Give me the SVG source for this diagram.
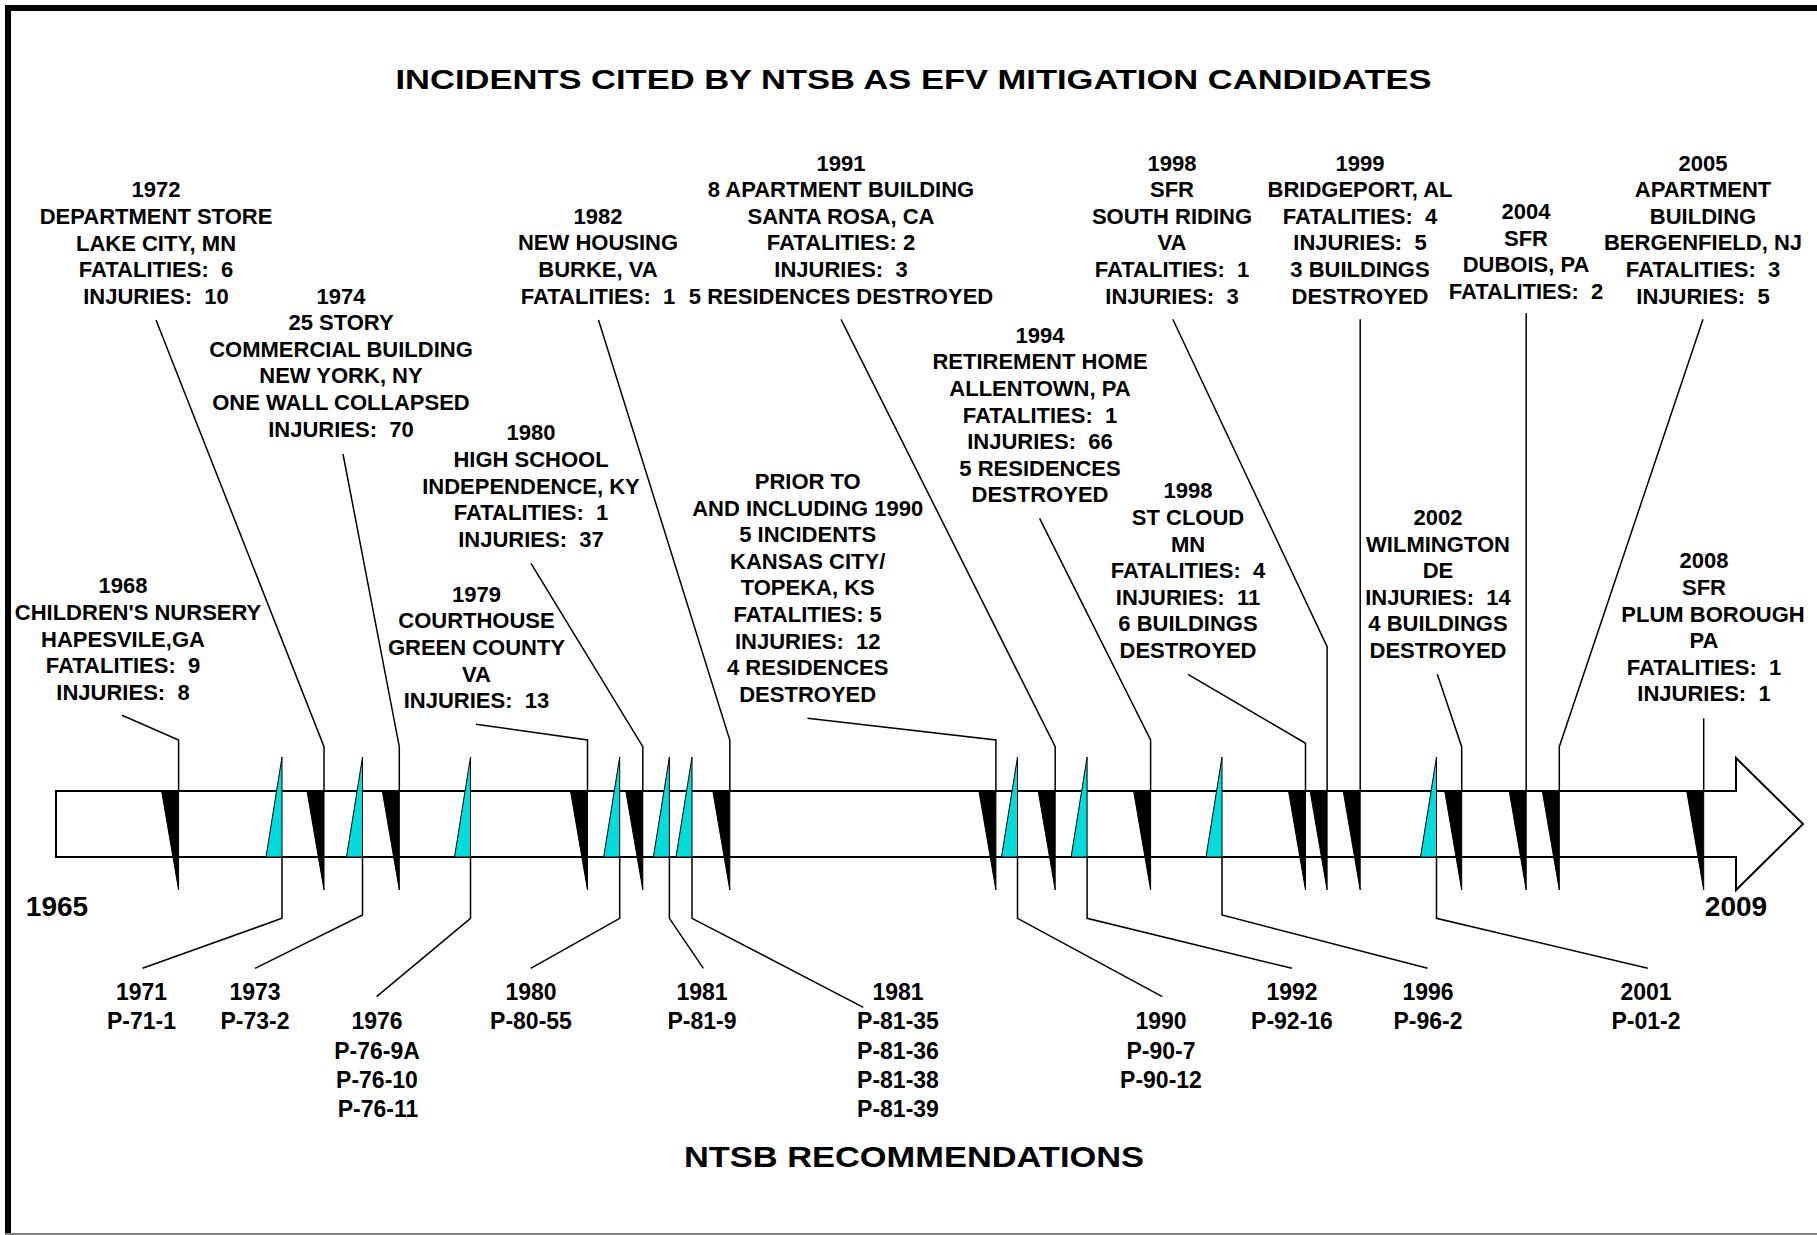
<svg xmlns="http://www.w3.org/2000/svg" width="1817" height="1235" viewBox="0 0 1817 1235">
<style>
text{font-family:"Liberation Sans",Arial,sans-serif;font-weight:bold;fill:#000;text-anchor:middle}
.lbl{font-size:22px}
.rec{font-size:23px}
.big{font-size:28px}
.ldr{stroke:#000;stroke-width:1.5;fill:none}
.blk{fill:#000;stroke:#000;stroke-width:1}
.cyn{fill:#00DCDC;stroke:#000;stroke-width:1}
</style>
<rect x="0" y="0" width="1817" height="1235" fill="#fff"/>
<path d="M8,1235 V8 H1817" fill="none" stroke="#000" stroke-width="6"/>
<line x1="5" y1="1234" x2="1817" y2="1234" stroke="#808080" stroke-width="2"/>

<g id="title"><text x="913.5" y="88.5" font-size="28.5" textLength="1036" lengthAdjust="spacingAndGlyphs">INCIDENTS CITED BY NTSB AS EFV MITIGATION CANDIDATES</text></g>

<g id="timeline">
<polygon points="56,791 1736,791 1736,758 1803,824 1736,890 1736,857 56,857" fill="#fff" stroke="#000" stroke-width="2"/>
<text class="big" x="57" y="916">1965</text>
<text class="big" x="1736" y="916">2009</text>
</g>

<g id="connectors">
<polyline class="ldr" points="178.6,791 178.6,740 122,715.3"/>
<polyline class="ldr" points="324,791 324,746.7 156,320"/>
<polyline class="ldr" points="399.3,791 399.3,746.7 343,454"/>
<polyline class="ldr" points="587.5,791 587.5,740 476,724.3"/>
<polyline class="ldr" points="642.8,791 642.8,746.7 531,563.3"/>
<polyline class="ldr" points="729.8,791 729.8,740 598.5,320"/>
<polyline class="ldr" points="995.9,791 995.9,740 807.5,718.3"/>
<polyline class="ldr" points="1055.2,791 1055.2,746.7 841,319.3"/>
<polyline class="ldr" points="1150.6,791 1150.6,740 1039.6,518.3"/>
<polyline class="ldr" points="1305.5,791 1305.5,743.3 1188,674.3"/>
<polyline class="ldr" points="1327.1,791 1327.1,646.7 1172.8,319.3"/>
<polyline class="ldr" points="1360.2,791 1360.2,319.3"/>
<polyline class="ldr" points="1461.7,791 1461.7,746.7 1437.3,674.3"/>
<polyline class="ldr" points="1526.2,791 1526.2,313.3"/>
<polyline class="ldr" points="1559.3,791 1559.3,746.7 1703,319.3"/>
<polyline class="ldr" points="1703.7,791 1703.7,718.3"/>
<polyline class="ldr" points="282,857 282,918.3 142.5,968.3"/>
<polyline class="ldr" points="362.5,857 362.5,915 255,968.3"/>
<polyline class="ldr" points="470.5,857 470.5,918.3 376.6,996.7"/>
<polyline class="ldr" points="619.7,857 619.7,918.3 530.7,968.3"/>
<polyline class="ldr" points="669.4,857 669.4,918.3 703.4,968.3"/>
<polyline class="ldr" points="692,857 692,918.3 863.3,1007.3"/>
<polyline class="ldr" points="1017.5,857 1017.5,918.3 1162.3,996.7"/>
<polyline class="ldr" points="1087.1,857 1087.1,918.3 1292,968.3"/>
<polyline class="ldr" points="1222,857 1222,915 1427.6,968.3"/>
<polyline class="ldr" points="1436.5,857 1436.5,918.3 1647.8,968.3"/>
</g>

<g id="markers">
<polygon class="blk" points="161.6,791 178.6,791 178.6,890"/>
<polygon class="blk" points="307,791 324,791 324,890"/>
<polygon class="blk" points="382.3,791 399.3,791 399.3,890"/>
<polygon class="blk" points="570.5,791 587.5,791 587.5,890"/>
<polygon class="blk" points="625.8,791 642.8,791 642.8,890"/>
<polygon class="blk" points="712.8,791 729.8,791 729.8,890"/>
<polygon class="blk" points="978.9,791 995.9,791 995.9,890"/>
<polygon class="blk" points="1038.2,791 1055.2,791 1055.2,890"/>
<polygon class="blk" points="1133.6,791 1150.6,791 1150.6,890"/>
<polygon class="blk" points="1288.5,791 1305.5,791 1305.5,890"/>
<polygon class="blk" points="1310.1,791 1327.1,791 1327.1,890"/>
<polygon class="blk" points="1343.2,791 1360.2,791 1360.2,890"/>
<polygon class="blk" points="1444.7,791 1461.7,791 1461.7,890"/>
<polygon class="blk" points="1509.2,791 1526.2,791 1526.2,890"/>
<polygon class="blk" points="1542.3,791 1559.3,791 1559.3,890"/>
<polygon class="blk" points="1686.7,791 1703.7,791 1703.7,890"/>
<polygon class="cyn" points="282,757 282,857 266,857"/>
<polygon class="cyn" points="362.5,757 362.5,857 346.5,857"/>
<polygon class="cyn" points="470.5,757 470.5,857 454.5,857"/>
<polygon class="cyn" points="619.7,757 619.7,857 603.7,857"/>
<polygon class="cyn" points="669.4,757 669.4,857 653.4,857"/>
<polygon class="cyn" points="692,757 692,857 676,857"/>
<polygon class="cyn" points="1017.5,757 1017.5,857 1001.5,857"/>
<polygon class="cyn" points="1087.1,757 1087.1,857 1071.1,857"/>
<polygon class="cyn" points="1222,757 1222,857 1206,857"/>
<polygon class="cyn" points="1436.5,757 1436.5,857 1420.5,857"/>
</g>

<g id="inc-1968"><text class="lbl"><tspan x="123" y="593.3">1968</tspan><tspan x="138" y="619.9">CHILDREN'S NURSERY</tspan><tspan x="123" y="646.5">HAPESVILE,GA</tspan><tspan x="123" y="673.1">FATALITIES:&#160; 9</tspan><tspan x="123" y="699.7">INJURIES:&#160; 8</tspan></text></g>
<g id="inc-1972"><text class="lbl"><tspan x="156" y="197.3">1972</tspan><tspan x="156" y="223.9">DEPARTMENT STORE</tspan><tspan x="156" y="250.5">LAKE CITY, MN</tspan><tspan x="156" y="277.1">FATALITIES:&#160; 6</tspan><tspan x="156" y="303.7">INJURIES:&#160; 10</tspan></text></g>
<g id="inc-1974"><text class="lbl"><tspan x="341" y="303.5">1974</tspan><tspan x="341" y="330.1">25 STORY</tspan><tspan x="341" y="356.7">COMMERCIAL BUILDING</tspan><tspan x="341" y="383.3">NEW YORK, NY</tspan><tspan x="341" y="409.9">ONE WALL COLLAPSED</tspan><tspan x="341" y="436.5">INJURIES:&#160; 70</tspan></text></g>
<g id="inc-1979"><text class="lbl"><tspan x="476.5" y="601.7">1979</tspan><tspan x="476.5" y="628.3">COURTHOUSE</tspan><tspan x="476.5" y="654.9">GREEN COUNTY</tspan><tspan x="476.5" y="681.5">VA</tspan><tspan x="476.5" y="708.1">INJURIES:&#160; 13</tspan></text></g>
<g id="inc-1980"><text class="lbl"><tspan x="531" y="440.3">1980</tspan><tspan x="531" y="466.9">HIGH SCHOOL</tspan><tspan x="531" y="493.5">INDEPENDENCE, KY</tspan><tspan x="531" y="520.1">FATALITIES:&#160; 1</tspan><tspan x="531" y="546.7">INJURIES:&#160; 37</tspan></text></g>
<g id="inc-1982"><text class="lbl"><tspan x="598" y="223.7">1982</tspan><tspan x="598" y="250.3">NEW HOUSING</tspan><tspan x="598" y="276.9">BURKE, VA</tspan><tspan x="598" y="303.5">FATALITIES:&#160; 1</tspan></text></g>
<g id="inc-1990"><text class="lbl"><tspan x="807.7" y="488.9">PRIOR TO</tspan><tspan x="807.7" y="515.5">AND INCLUDING 1990</tspan><tspan x="807.7" y="542.1">5 INCIDENTS</tspan><tspan x="807.7" y="568.7">KANSAS CITY/</tspan><tspan x="807.7" y="595.3">TOPEKA, KS</tspan><tspan x="807.7" y="621.9">FATALITIES: 5</tspan><tspan x="807.7" y="648.5">INJURIES:&#160; 12</tspan><tspan x="807.7" y="675.1">4 RESIDENCES</tspan><tspan x="807.7" y="701.7">DESTROYED</tspan></text></g>
<g id="inc-1991"><text class="lbl"><tspan x="841" y="170.5">1991</tspan><tspan x="841" y="197.1">8 APARTMENT BUILDING</tspan><tspan x="841" y="223.7">SANTA ROSA, CA</tspan><tspan x="841" y="250.3">FATALITIES: 2</tspan><tspan x="841" y="276.9">INJURIES:&#160; 3</tspan><tspan x="841" y="303.5">5 RESIDENCES DESTROYED</tspan></text></g>
<g id="inc-1994"><text class="lbl"><tspan x="1040" y="342.7">1994</tspan><tspan x="1040" y="369.3">RETIREMENT HOME</tspan><tspan x="1040" y="395.9">ALLENTOWN, PA</tspan><tspan x="1040" y="422.5">FATALITIES:&#160; 1</tspan><tspan x="1040" y="449.1">INJURIES:&#160; 66</tspan><tspan x="1040" y="475.7">5 RESIDENCES</tspan><tspan x="1040" y="502.3">DESTROYED</tspan></text></g>
<g id="inc-1998-stcloud"><text class="lbl"><tspan x="1188" y="498.3">1998</tspan><tspan x="1188" y="524.9">ST CLOUD</tspan><tspan x="1188" y="551.5">MN</tspan><tspan x="1188" y="578.1">FATALITIES:&#160; 4</tspan><tspan x="1188" y="604.7">INJURIES:&#160; 11</tspan><tspan x="1188" y="631.3">6 BUILDINGS</tspan><tspan x="1188" y="657.9">DESTROYED</tspan></text></g>
<g id="inc-1998-southriding"><text class="lbl"><tspan x="1172" y="170.5">1998</tspan><tspan x="1172" y="197.1">SFR</tspan><tspan x="1172" y="223.7">SOUTH RIDING</tspan><tspan x="1172" y="250.3">VA</tspan><tspan x="1172" y="276.9">FATALITIES:&#160; 1</tspan><tspan x="1172" y="303.5">INJURIES:&#160; 3</tspan></text></g>
<g id="inc-1999"><text class="lbl"><tspan x="1360" y="170.5">1999</tspan><tspan x="1360" y="197.1">BRIDGEPORT, AL</tspan><tspan x="1360" y="223.7">FATALITIES:&#160; 4</tspan><tspan x="1360" y="250.3">INJURIES:&#160; 5</tspan><tspan x="1360" y="276.9">3 BUILDINGS</tspan><tspan x="1360" y="303.5">DESTROYED</tspan></text></g>
<g id="inc-2002"><text class="lbl"><tspan x="1438" y="525">2002</tspan><tspan x="1438" y="551.6">WILMINGTON</tspan><tspan x="1438" y="578.2">DE</tspan><tspan x="1438" y="604.8">INJURIES:&#160; 14</tspan><tspan x="1438" y="631.4">4 BUILDINGS</tspan><tspan x="1438" y="658">DESTROYED</tspan></text></g>
<g id="inc-2004"><text class="lbl"><tspan x="1526" y="219">2004</tspan><tspan x="1526" y="245.6">SFR</tspan><tspan x="1526" y="272.2">DUBOIS, PA</tspan><tspan x="1526" y="298.8">FATALITIES:&#160; 2</tspan></text></g>
<g id="inc-2005"><text class="lbl"><tspan x="1703" y="170.5">2005</tspan><tspan x="1703" y="197.1">APARTMENT</tspan><tspan x="1703" y="223.7">BUILDING</tspan><tspan x="1703" y="250.3">BERGENFIELD, NJ</tspan><tspan x="1703" y="276.9">FATALITIES:&#160; 3</tspan><tspan x="1703" y="303.5">INJURIES:&#160; 5</tspan></text></g>
<g id="inc-2008"><text class="lbl"><tspan x="1704" y="568.3">2008</tspan><tspan x="1704" y="594.9">SFR</tspan><tspan x="1713" y="621.5">PLUM BOROUGH</tspan><tspan x="1704" y="648.1">PA</tspan><tspan x="1704" y="674.7">FATALITIES:&#160; 1</tspan><tspan x="1704" y="701.3">INJURIES:&#160; 1</tspan></text></g>

<g id="rec-1971"><text class="rec"><tspan x="141.5" y="1000">1971</tspan><tspan x="141.5" y="1029.3">P-71-1</tspan></text></g>
<g id="rec-1973"><text class="rec"><tspan x="255" y="1000">1973</tspan><tspan x="255" y="1029.3">P-73-2</tspan></text></g>
<g id="rec-1976"><text class="rec"><tspan x="377" y="1029.3">1976</tspan><tspan x="377" y="1058.6">P-76-9A</tspan><tspan x="377" y="1087.9">P-76-10</tspan><tspan x="378" y="1117.2">P-76-11</tspan></text></g>
<g id="rec-1980"><text class="rec"><tspan x="531" y="1000">1980</tspan><tspan x="531" y="1029.3">P-80-55</tspan></text></g>
<g id="rec-1981a"><text class="rec"><tspan x="702" y="1000">1981</tspan><tspan x="702" y="1029.3">P-81-9</tspan></text></g>
<g id="rec-1981b"><text class="rec"><tspan x="898" y="1000">1981</tspan><tspan x="898" y="1029.3">P-81-35</tspan><tspan x="898" y="1058.6">P-81-36</tspan><tspan x="898" y="1087.9">P-81-38</tspan><tspan x="898" y="1117.2">P-81-39</tspan></text></g>
<g id="rec-1990"><text class="rec"><tspan x="1161" y="1029.3">1990</tspan><tspan x="1161" y="1058.6">P-90-7</tspan><tspan x="1161" y="1087.9">P-90-12</tspan></text></g>
<g id="rec-1992"><text class="rec"><tspan x="1292" y="1000">1992</tspan><tspan x="1292" y="1029.3">P-92-16</tspan></text></g>
<g id="rec-1996"><text class="rec"><tspan x="1428" y="1000">1996</tspan><tspan x="1428" y="1029.3">P-96-2</tspan></text></g>
<g id="rec-2001"><text class="rec"><tspan x="1646" y="1000">2001</tspan><tspan x="1646" y="1029.3">P-01-2</tspan></text></g>

<g id="footer"><text x="914" y="1166.7" font-size="30" textLength="460" lengthAdjust="spacingAndGlyphs">NTSB RECOMMENDATIONS</text></g>
</svg>
